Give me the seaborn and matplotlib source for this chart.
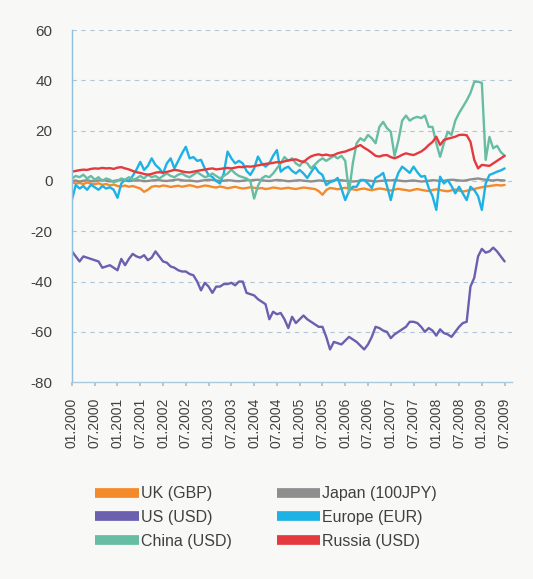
import numpy as np
import pandas as pd
import matplotlib
matplotlib.use("Agg")
import matplotlib.pyplot as plt
from matplotlib.lines import Line2D
import seaborn as sns

# monthly values, 01.2000 .. 07.2009
uk = [
    -0.5, -1, -0.8, -1.2, -0.6, -1, -1.3, -0.9, -1.5, -1.2,
    -1.8, -1.4, -2, -2.2, -1.8, -2.3, -2, -2.5, -3, -4.3,
    -3.5, -2.3, -2, -2.2, -1.8, -2, -2.4, -2.1, -1.9, -2.3,
    -2, -1.7, -2, -2.5, -2.2, -1.8, -2, -2.4, -2.6, -2.2,
    -2.5, -2.9, -2.6, -2.3, -2.7, -3, -2.8, -2.5, -2.7, -3,
    -2.8, -3.2, -3, -2.6, -2.8, -3.1, -2.9, -2.7, -3, -3.2,
    -2.9, -2.6, -2.8, -3, -3.2, -4, -5.5, -3.6, -2.8, -3,
    -3.3, -3, -2.7, -3, -3.3, -3.6, -3.2, -3, -3.4, -3.7,
    -3.3, -3, -3.2, -3.5, -3.8, -3.4, -3.1, -3.4, -3.6, -3.9,
    -3.5, -3.2, -3.5, -3.8, -4, -3.6, -3.3, -3.6, -3.9, -4.1,
    -3.7, -3.4, -3.8, -4.2, -3.9, -3.5, -3.2, -2.8, -2.5, -2.2,
    -2, -1.8, -1.6, -1.8, -1.6,
]
japan = [
    0.0, 0.2, -0.2, 0.1, 0.3, 0.0, -0.1, 0.2, 0.4, 0.1,
    -0.2, 0.0, 0.3, 0.5, 0.2, 0.0, 0.1, 0.3, 0.2, -0.1,
    0.0, 0.2, 0.4, 0.3, 0.1, 0.0, 0.2, 0.4, 0.6, 0.3,
    0.1, 0.2, 0.0, -0.2, 0.1, 0.3, 0.5, 0.4, 0.2, 0.0,
    0.1, 0.3, 0.2, 0.0, -0.1, 0.1, 0.3, 0.2, 0.4, 0.5,
    0.3, 0.1, 0.0, 0.2, 0.4, 0.3, 0.1, -0.1, 0.0, 0.2,
    0.3, 0.1, 0.0, -0.2, 0.0, 0.2, 0.1, -0.1, 0.0, 0.2,
    0.4, 0.3, 0.1, 0.0, -0.2, -0.1, 0.1, 0.3, 0.2, 0.0,
    -0.2, 0.0, 0.1, 0.3, 0.2, 0.4, 0.2, 0.0, -0.1, 0.1,
    0.2, 0.0, -0.2, -0.1, 0.1, 0.3, 0.2, 0.0, 0.1, 0.3,
    0.5, 0.4, 0.2, 0.1, 0.3, 0.6, 0.8, 1.0, 0.7, 0.5,
    0.3, 0.2, 0.4, 0.3, 0.2,
]
us = [
    -28, -30, -32, -30, -30.5, -31, -31.5, -32, -34.5, -34,
    -33.5, -34.5, -35.5, -31, -33.5, -31, -29, -30, -30.5, -29.5,
    -31.5, -30.5, -28, -30, -32, -32.5, -34, -34.5, -35.5, -36,
    -36, -37, -37.5, -40, -43.5, -40.5, -42, -44.5, -42, -42,
    -41, -41, -40.5, -41.5, -40, -40, -44.5, -45, -45.5, -47,
    -48, -49, -55, -52, -53, -52.5, -55, -58.5, -54, -56.5,
    -55, -53.5, -55, -56, -57, -58, -58, -62, -67, -64,
    -64.5, -65, -63.5, -62, -63, -64, -65.5, -67, -65, -62,
    -58, -58.5, -59.5, -60, -62.5, -61, -60, -59, -58, -56,
    -56, -56.5, -58, -60, -58.5, -59.5, -61.5, -59, -60.5, -61,
    -62, -60, -58, -56.5, -56, -42, -38.5, -30, -27, -28.5,
    -28, -26.5, -28, -30, -32,
]
europe = [
    -7.5, -1.6, -3, -2, -3.5, -1.5, -2.5, -3.5, -2, -3,
    -2.5, -3.5, -6.7, -1, 0.5, 0, 2, 4.5, 7.6, 4.4,
    6, 9, 6.4, 5, 3, 7, 9, 5, 8, 11,
    13.6, 9, 9.5, 8, 8.4, 5, 2.4, 1.6, 0, -1,
    3, 11.7, 9, 7, 8, 7, 4, 2.4, 5, 9.7,
    7, 5.7, 7, 10, 12.3, 3.7, 5, 5.7, 4, 3,
    4.4, 3, 1.2, 3.5, 5.7, 3.5, 2.4, -1.6, -0.5, 0,
    1.2, -3, -7.6, -4, -2.3, -2.3, 0.4, 0.4, -1, -2.8,
    1.2, 2, 3.2, -2, -7.6, -1, 3.2, 5.7, 4.5, 3.2,
    5.7, 3.5, 1.7, 2, -2.8, -6, -11.5, 1.7, -1, 0.4,
    -2, -4.9, -2.3, -5, -7.6, -2.3, -3.6, -6, -11.5, -1,
    2.4, 3, 3.7, 4.2, 5,
]
china = [
    1, 2, 1.5, 2.5, 1, 2, 0.5, 1.5, 0, 1,
    0.5, -0.5, 0, 1, 0.5, 1.5, 0.5, 1, 2, 1,
    2.5, 1.5, 2, 1, 2, 3, 2, 1.5, 2.5, 3,
    2, 1.5, 2.5, 3.5, 2.5, 1.5, 2, 3, 2, 1,
    2, 3, 4.5, 3, 2, 1.5, 1, 0, -7, -2,
    1, 2, 1.5, 3, 5, 7, 9.5, 8, 9, 7,
    6, 8, 7, 5, 6.5, 8, 9, 8, 9, 10,
    9, 10, 8, -4.5, 7, 15, 17, 16, 18.3, 17,
    15, 21.5, 23.5, 21, 19.6, 10, 16, 24, 26, 24,
    25, 25.5, 25, 26, 21.5, 21.5, 15, 9.6, 15, 19.6,
    18.3, 24, 27, 29.5, 32, 35, 39.4, 39.5, 39, 8.4,
    17.5, 13, 14, 11.5, 10,
]
russia = [
    3.7, 4, 4.3, 4.5, 4.4, 4.8, 5, 4.9, 5.2, 5,
    5.1, 4.8, 5.3, 5.5, 5, 4.6, 4, 3.5, 3.2, 2.8,
    2.5, 2.8, 3.3, 3.5, 3.3, 3.6, 4, 4.4, 4.2, 3.8,
    3.5, 3.4, 3.7, 4, 4.3, 4.5, 4.8, 5, 4.6, 4.8,
    5, 5.2, 5, 5.3, 5.6, 5.5, 5.8, 5.7, 5.9, 6.2,
    6.5, 6.8, 7, 7.2, 7.5, 7.4, 7.8, 8.2, 8.4, 8.6,
    8, 7.5, 8.8, 9.8, 10.3, 10.6, 10.2, 10.5, 10.1, 10.3,
    11, 11.4, 11.7, 12.3, 12.8, 13.6, 14.3, 13.2, 12.3, 11.2,
    10, 9.7, 10.2, 10.3, 9.5, 9, 9.6, 10.4, 11, 10.6,
    10.3, 11, 11.7, 12.8, 14.3, 15.5, 17.6, 14.3, 16.3, 16.8,
    17.2, 17.6, 18.3, 18.4, 18.2, 15.6, 8.4, 5, 6.4, 6.2,
    6, 7, 8, 9, 10,
]

series_names = ["UK (GBP)", "Japan (100JPY)", "US (USD)",
                "Europe (EUR)", "China (USD)", "Russia (USD)"]
series_values = [uk, japan, us, europe, china, russia]
colors = ["#F58A2A", "#8E8E8E", "#6B5FB0", "#1DB2E3", "#66BDA4", "#E43A3F"]

tick_labels = []
for yr in range(2000, 2010):
    tick_labels += ["01.%d" % yr, "07.%d" % yr]

rows = []
for name, vals in zip(series_names, series_values):
    for m, v in enumerate(vals):
        rows.append((m, v, name))
df = pd.DataFrame(rows, columns=["month", "value", "series"])

sns.set_theme(style="white")
plt.rcParams["font.family"] = ["Liberation Sans", "DejaVu Sans"]
plt.rcParams["axes.unicode_minus"] = False

bg = "#F8F8F6"
fig = plt.figure(figsize=(5.33, 5.79), dpi=100, facecolor=bg)
ax = fig.add_axes([0.135, 0.34, 0.826, 0.608])
ax.set_facecolor(bg)

sns.lineplot(data=df, x="month", y="value", hue="series",
             hue_order=series_names, palette=dict(zip(series_names, colors)),
             linewidth=1.7, legend=False, ax=ax)

ax.set_xlim(0, 116)
ax.set_ylim(-80, 60)
ax.set_yticks(np.arange(-80, 61, 20))
ax.set_xticks(np.arange(0, 6 * len(tick_labels), 6))
ax.set_xticklabels(tick_labels, rotation=90, fontsize=10, color="#404040")
ax.tick_params(axis="y", labelsize=11, labelcolor="#404040", length=0, pad=14)
ax.tick_params(axis="x", length=3, color="#9FC3DD", pad=8, bottom=True)
ax.set_xlabel("")
ax.set_ylabel("")

for y in np.arange(-60, 61, 20):
    ax.axhline(y, color="#AFC6D6", lw=0.8, ls=(0, (4, 4)), zorder=0)

for s in ["top", "right"]:
    ax.spines[s].set_visible(False)
ax.spines["left"].set_color("#8FC0E0")
ax.spines["bottom"].set_color("#A9C9DE")
ax.spines["left"].set_linewidth(1)
ax.spines["bottom"].set_linewidth(1)

# legend: rows UK/Japan, US/Europe, China/Russia
order = [0, 2, 4, 1, 3, 5]
handles = [Line2D([], [], color=colors[i], lw=7, solid_capstyle="butt")
           for i in order]
labels = [series_names[i] for i in order]
fig.legend(handles, labels, ncol=2, loc="upper left",
           bbox_to_anchor=(0.152, 0.185), frameon=False, fontsize=11.5,
           handlelength=2.7, handletextpad=0.15, columnspacing=2.8,
           labelspacing=0.55, labelcolor="#404040")

fig.savefig("out.png", dpi=100, facecolor=bg)
